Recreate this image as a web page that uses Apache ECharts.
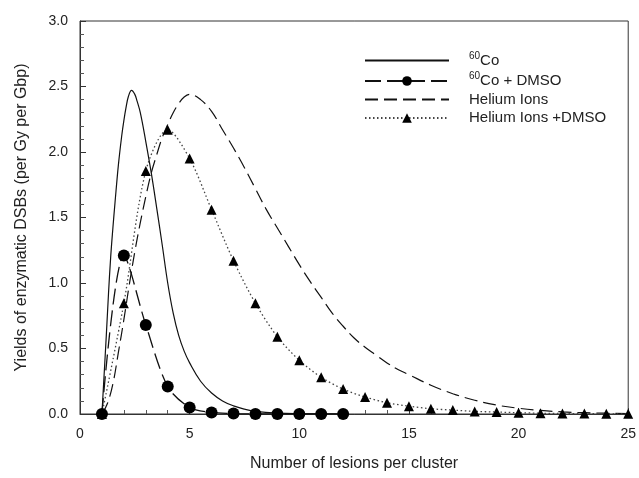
<!DOCTYPE html>
<html>
<head>
<meta charset="utf-8">
<script src="https://cdn.jsdelivr.net/npm/echarts@6/dist/echarts.min.js"></script>
<style>
  html, body { margin: 0; padding: 0; background: #fff; }
  #chart { width: 639px; height: 478px; }
</style>
</head>
<body>
<div id="chart"></div>
<script>
// fitted curve for 60Co
const coX = [1, 1.1, 1.2, 1.3, 1.4, 1.5, 1.6, 1.75, 1.9, 2, 2.1, 2.2, 2.35, 2.5, 2.6, 2.75, 3, 3.25, 3.5, 3.75, 4, 4.25, 4.5, 4.75, 5, 5.5, 6, 6.5, 7, 7.5, 8, 9, 10, 12]
const coY = [0, 0.3, 0.6, 0.92, 1.2, 1.42, 1.62, 1.9, 2.12, 2.24, 2.34, 2.42, 2.47, 2.44, 2.39, 2.3, 2.08, 1.84, 1.57, 1.29, 1.0, 0.77, 0.6, 0.48, 0.39, 0.25, 0.16, 0.1, 0.062, 0.037, 0.02, 0.006, 0.002, 0]

// 60Co + DMSO measured points
const coDmsoX = [1, 2, 3, 4, 5, 6, 7, 8, 9, 10, 11, 12]
const coDmsoY = [0, 1.21, 0.68, 0.21, 0.05, 0.012, 0.003, 0, 0, 0, 0, 0]

// fitted curve for helium ions
const heX = [1, 1.25, 1.5, 1.75, 2, 2.25, 2.5, 2.75, 3, 3.25, 3.5, 3.75, 4, 4.25, 4.5, 4.75, 5, 5.5, 6, 6.5, 7, 7.5, 8, 8.5, 9, 9.5, 10, 10.5, 11, 11.5, 12, 12.5, 13, 13.5, 14, 14.5, 15, 16, 17, 18, 19, 20, 21, 22, 23, 24, 25]
const heY = [0, 0.08, 0.23, 0.47, 0.72, 0.99, 1.24, 1.46, 1.66, 1.84, 1.98, 2.11, 2.21, 2.3, 2.37, 2.42, 2.44, 2.4, 2.31, 2.17, 2.03, 1.88, 1.72, 1.56, 1.42, 1.28, 1.14, 1.01, 0.89, 0.77, 0.67, 0.58, 0.51, 0.45, 0.39, 0.34, 0.3, 0.22, 0.155, 0.105, 0.068, 0.044, 0.027, 0.016, 0.01, 0.006, 0.004]

// helium ions + DMSO measured points
const heDmsoX = [1, 2, 3, 4, 5, 6, 7, 8, 9, 10, 11, 12, 13, 14, 15, 16, 17, 18, 19, 20, 21, 22, 23, 24, 25]
const heDmsoY = [0, 0.845, 1.855, 2.17, 1.95, 1.56, 1.17, 0.845, 0.59, 0.41, 0.28, 0.19, 0.13, 0.086, 0.06, 0.04, 0.03, 0.02, 0.015, 0.01, 0.006, 0.004, 0.003, 0.002, 0.001]

const seriesNames = ['60Co', '60Co + DMSO', 'Helium Ions', 'Helium Ions +DMSO']
// fitted curves have no marker, so their legend entry is only a line
const hasMarker = [false, true, false, true]

const pairs = (xs, ys) => xs.map((x, i) => [x, ys[i]])

const font = 'Liberation Sans, Arial, sans-serif'
const ink = '#222'

const chart = echarts.init(document.getElementById('chart'), null, { renderer: 'canvas' })

const option = {
	animation: false,
	backgroundColor: '#fff',
	grid: {
		left: 80,
		right: 10,
		top: 21,
		bottom: 64,
		show: true,
		borderColor: '#333',
		borderWidth: 1
	},
	legend: {
		left: 364,
		top: 51,
		padding: 0,
		orient: 'vertical',
		itemWidth: 84,
		itemHeight: 12,
		itemGap: 3.5,
		data: seriesNames.map((name, i) => hasMarker[i] ? { name } : { name, itemStyle: { opacity: 0 } }),
		formatter: name => {
			if (name.indexOf('60') === 0) {
				return '{sup|60}{n|' + name.slice(2) + '}'
			}
			return '{n|' + name + '}'
		},
		textStyle: {
			padding: [0, 0, 0, 15],
			rich: {
				sup: { fontFamily: font, fontSize: 10, color: ink, verticalAlign: 'top', lineHeight: 12 },
				n: { fontFamily: font, fontSize: 15, color: ink, lineHeight: 19 }
			}
		}
	},
	xAxis: {
		type: 'value',
		min: 0,
		max: 25,
		interval: 5,
		name: 'Number of lesions per cluster',
		nameLocation: 'middle',
		nameGap: 42,
		nameTextStyle: { fontFamily: font, fontSize: 16, color: ink },
		axisLine: { lineStyle: { color: '#333', width: 1 } },
		axisTick: { inside: true, length: 6, lineStyle: { color: '#333' } },
		minorTick: { show: true, splitNumber: 5, length: 4, lineStyle: { color: '#555' } },
		axisLabel: { fontFamily: font, fontSize: 14, color: ink, margin: 13 },
		splitLine: { show: false }
	},
	yAxis: {
		type: 'value',
		min: 0,
		max: 3,
		interval: 0.5,
		name: 'Yields of enzymatic DSBs (per Gy per Gbp)',
		nameLocation: 'middle',
		nameGap: 50,
		nameTextStyle: { fontFamily: font, fontSize: 16, color: ink },
		axisLine: { show: true, lineStyle: { color: '#333', width: 1 } },
		axisTick: { show: true, inside: true, length: 6, lineStyle: { color: '#333' } },
		minorTick: { show: true, splitNumber: 5, length: 4, lineStyle: { color: '#555' } },
		axisLabel: { fontFamily: font, fontSize: 14, color: ink, margin: 12, formatter: v => v.toFixed(1) },
		splitLine: { show: false }
	},
	series: [
		{
			name: seriesNames[0],
			type: 'line',
			data: pairs(coX, coY),
			smooth: 0.4,
			symbol: 'none',
			lineStyle: { color: '#111', width: 1.2, type: 'solid' },
			itemStyle: { color: '#111' },
			z: 3
		},
		{
			name: seriesNames[1],
			type: 'line',
			data: pairs(coDmsoX, coDmsoY),
			smooth: 0.3,
			symbol: 'circle',
			symbolSize: 12,
			lineStyle: { color: '#111', width: 1.3, type: [16, 6] },
			itemStyle: { color: '#000' },
			z: 4
		},
		{
			name: seriesNames[2],
			type: 'line',
			data: pairs(heX, heY),
			smooth: 0.4,
			symbol: 'none',
			lineStyle: { color: '#111', width: 1.2, type: [13, 6] },
			itemStyle: { color: '#111' },
			z: 3
		},
		{
			name: seriesNames[3],
			type: 'line',
			data: pairs(heDmsoX, heDmsoY),
			smooth: 0.3,
			symbol: 'triangle',
			symbolSize: 10,
			lineStyle: { color: '#444', width: 1.3, type: [1.5, 2.5] },
			itemStyle: { color: '#000' },
			z: 4
		}
	]
}

chart.setOption(option)
</script>
</body>
</html>
